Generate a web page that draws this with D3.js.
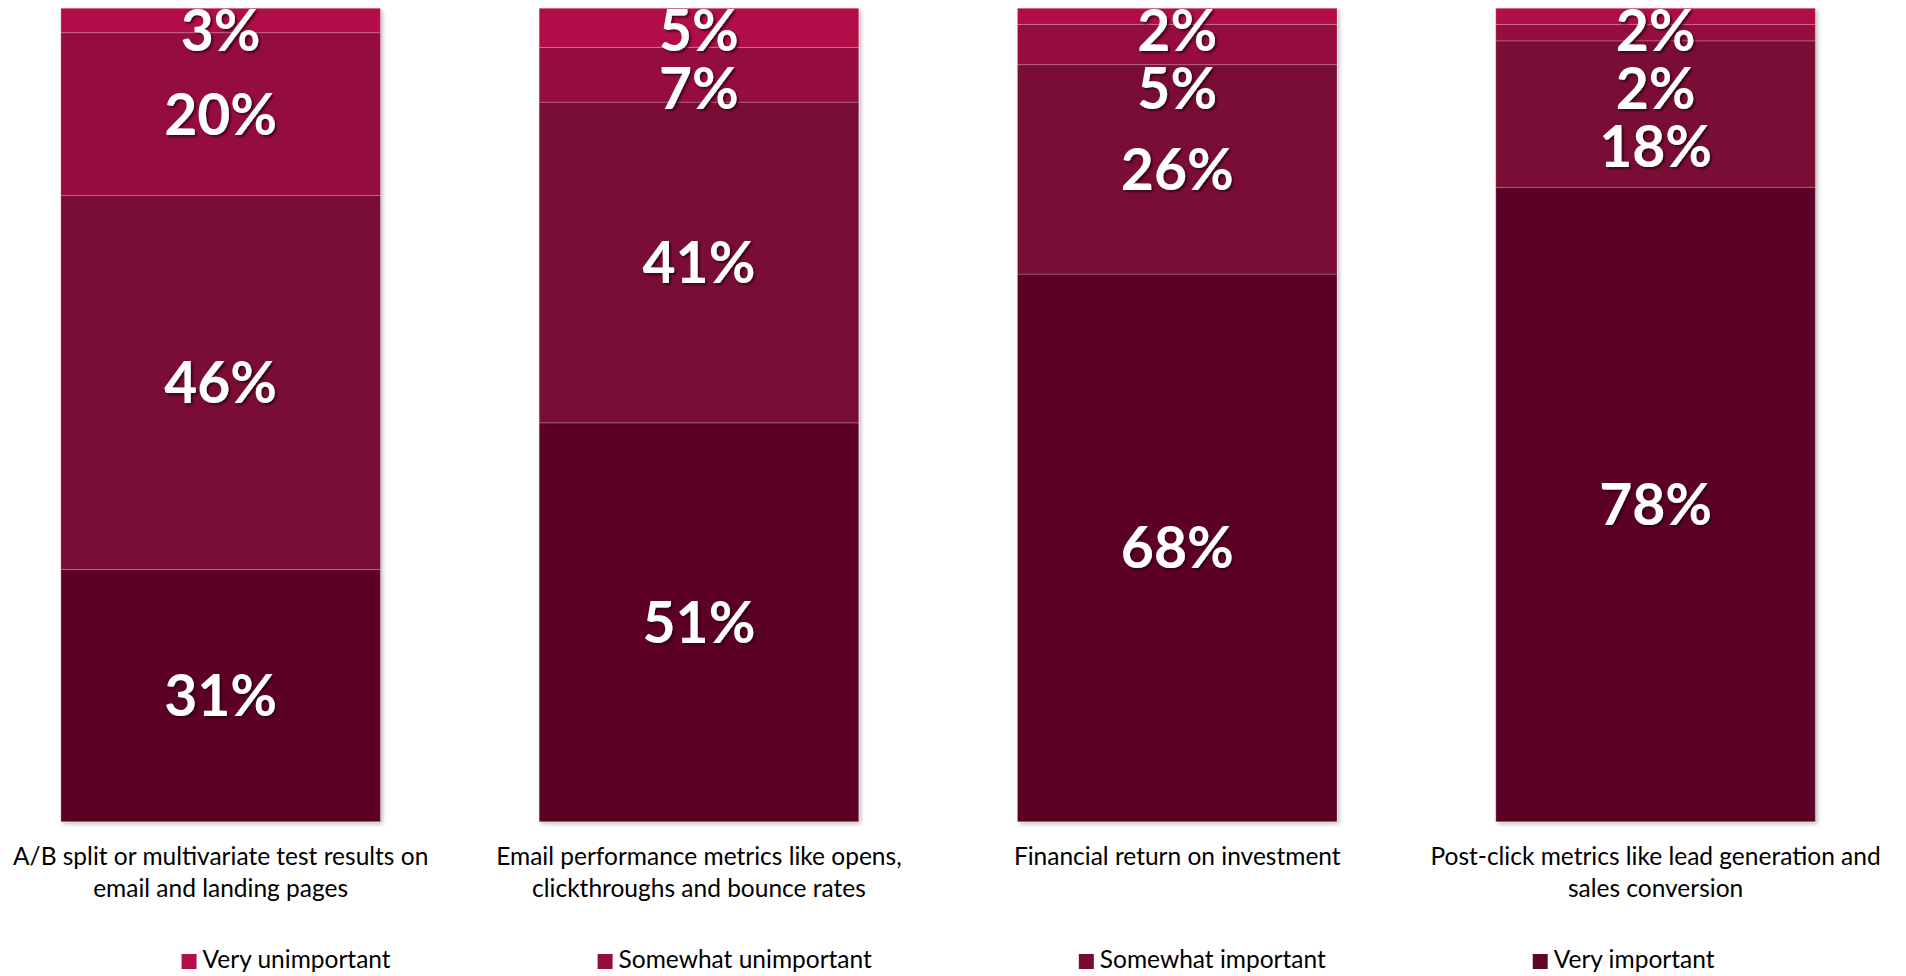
<!DOCTYPE html>
<html>
<head>
<meta charset="utf-8">
<script src="https://cdn.jsdelivr.net/npm/d3@7"></script>
<style>
  html, body { margin: 0; padding: 0; background: #fff; }
  svg { display: block; }
</style>
</head>
<body>
<svg id="chart" width="1906" height="976"></svg>
<script>
// ---- data ----
const categories = [
  "A/B split or multivariate test results on email and landing pages",
  "Email performance metrics like opens, clickthroughs and bounce rates",
  "Financial return on investment",
  "Post-click metrics like lead generation and sales conversion"
];
const categoryLabelLines = [
  ["A/B split or multivariate test results on", "email and landing pages"],
  ["Email performance metrics like opens,", "clickthroughs and bounce rates"],
  ["Financial return on investment"],
  ["Post-click metrics like lead generation and", "sales conversion"]
];
const seriesNames = ["Very unimportant", "Somewhat unimportant", "Somewhat important", "Very important"];
const veryUnimportant     = [3, 5, 2, 2];
const somewhatUnimportant = [20, 7, 5, 2];
const somewhatImportant   = [46, 41, 26, 18];
const veryImportant       = [31, 51, 68, 78];
const seriesColors = ["#B10F49", "#950C3F", "#790934", "#5D0628"];

// ---- build table ----
const seriesValues = [veryUnimportant, somewhatUnimportant, somewhatImportant, veryImportant];
const table = categories.map((c, i) => {
  const row = { category: c };
  seriesNames.forEach((s, j) => row[s] = seriesValues[j][i]);
  return row;
});

const svg = d3.select("#chart");

// layout
const plotTop = 8.3, plotBottom = 821.7;
const x = d3.scaleBand().domain(categories).range([-18.5, 1894.7]).paddingInner(0.332).paddingOuter(0.166);
const y = d3.scaleLinear().domain([0, 1]).range([plotBottom, plotTop]);
const color = d3.scaleOrdinal().domain(seriesNames).range(seriesColors);

// stack: bottom = Very important
const stackKeys = seriesNames.slice().reverse();
const stacked = d3.stack().keys(stackKeys).offset(d3.stackOffsetExpand)(table);

const defs = svg.append("defs");
const barShadow = defs.append("filter").attr("id", "barShadow")
  .attr("x", "-5%").attr("y", "-5%").attr("width", "115%").attr("height", "115%");
barShadow.append("feDropShadow").attr("dx", 2).attr("dy", 2).attr("stdDeviation", 2)
  .attr("flood-color", "#000").attr("flood-opacity", 0.28);
const textShadow = defs.append("filter").attr("id", "textShadow")
  .attr("x", "-20%").attr("y", "-20%").attr("width", "150%").attr("height", "150%");
textShadow.append("feDropShadow").attr("dx", 2).attr("dy", 2).attr("stdDeviation", 1.2)
  .attr("flood-color", "#2a0010").attr("flood-opacity", 0.75);

// bars
const barsG = svg.append("g").attr("filter", "url(#barShadow)");
barsG.selectAll("g.series")
  .data(stacked)
  .join("g")
  .attr("class", "series")
  .attr("fill", d => color(d.key))
  .selectAll("rect")
  .data(d => d)
  .join("rect")
  .attr("x", d => x(d.data.category))
  .attr("width", x.bandwidth())
  .attr("y", d => y(d[1]))
  .attr("height", d => y(d[0]) - y(d[1]))
  .attr("stroke", "rgba(255,255,255,0.2)")
  .attr("stroke-width", 1);

// data labels with overlap avoidance from the top of each bar
const labelFont = 57;
const labelGap = 58;
const labels = [];
categories.forEach((c, ci) => {
  let prev = -Infinity;
  seriesNames.forEach(s => {
    const layer = stacked.find(l => l.key === s);
    const seg = layer[ci];
    const center = (y(seg[0]) + y(seg[1])) / 2;
    const cy = Math.max(center, plotTop + 22, prev + labelGap);
    prev = cy;
    labels.push({ category: c, value: seg.data[s], cy });
  });
});

svg.append("g")
  .attr("filter", "url(#textShadow)")
  .selectAll("text")
  .data(labels)
  .join("text")
  .attr("x", d => x(d.category) + x.bandwidth() / 2)
  .attr("y", d => d.cy + labelFont * 0.36)
  .attr("text-anchor", "middle")
  .attr("font-family", "Lato, 'Open Sans', sans-serif")
  .attr("font-weight", 700)
  .attr("font-size", labelFont)
  .attr("fill", "#fff")
  .text(d => d.value + "%");

// category axis labels
const axisFont = 24.5;
const axisG = svg.append("g");
categories.forEach((c, i) => {
  const t = axisG.append("text")
    .attr("x", x(c) + x.bandwidth() / 2)
    .attr("y", 865)
    .attr("text-anchor", "middle")
    .attr("font-family", "Lato, 'Open Sans', sans-serif")
    .attr("font-size", axisFont)
    .attr("fill", "#000");
  categoryLabelLines[i].forEach((line, k) => {
    t.append("tspan")
      .attr("x", x(c) + x.bandwidth() / 2)
      .attr("dy", k === 0 ? 0 : 32)
      .text(line);
  });
});

// legend
const legendFont = 24.5;
const legendG = svg.append("g");
const legendItems = legendG.selectAll("g")
  .data(seriesNames)
  .join("g");
legendItems.append("rect")
  .attr("width", 15).attr("height", 15)
  .attr("y", 954)
  .attr("fill", d => color(d));
legendItems.append("text")
  .attr("x", 21)
  .attr("y", 968)
  .attr("font-family", "Lato, 'Open Sans', sans-serif")
  .attr("font-size", legendFont)
  .attr("fill", "#000")
  .text(d => d);
const itemWidths = [];
legendItems.each(function() {
  itemWidths.push(21 + d3.select(this).select("text").node().getComputedTextLength());
});
const legendSpacing = 207;
const totalW = d3.sum(itemWidths) + legendSpacing * (itemWidths.length - 1);
let cursor = 948 - totalW / 2;
legendItems.each(function(d, i) {
  d3.select(this).attr("transform", `translate(${cursor},0)`);
  cursor += itemWidths[i] + legendSpacing;
});
</script>
</body>
</html>
